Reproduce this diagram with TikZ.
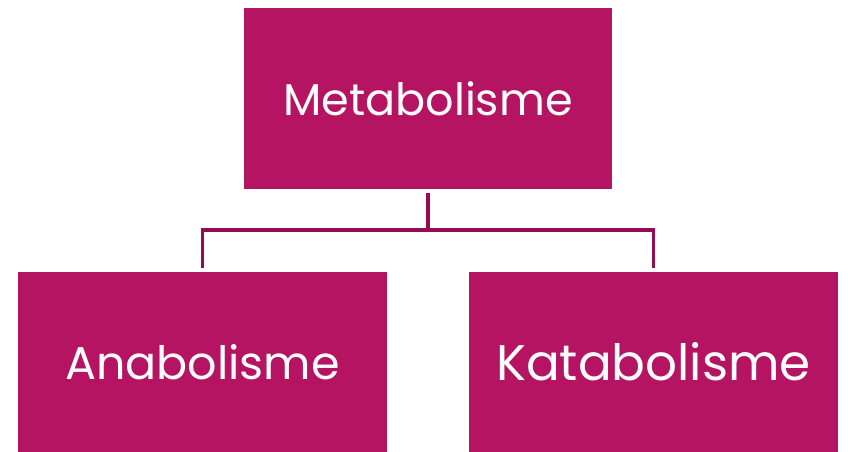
\documentclass[tikz,border=0pt]{standalone}
\usepackage{fontspec}
\setmainfont{Poppins}
\definecolor{boxfill}{HTML}{B41462}
\definecolor{connline}{HTML}{980A52}
\begin{document}
\begin{tikzpicture}[x=1pt,y=-1pt,
  box/.style={fill=boxfill, draw=none, inner sep=0pt, text=white,
    font=\fontsize{46}{50}\selectfont},
  conn/.style={draw=connline, line width=3.5pt}]
\useasboundingbox (0,0) rectangle (848,452);
\node[box, minimum width=368pt, minimum height=181pt, font=\fontsize{44.5}{50}\selectfont] (top) at (428,98.5) {Metabolisme};
\node[box, minimum width=369pt, minimum height=180pt] (left) at (202.5,362) {Anabolisme};
\node[box, minimum width=369pt, minimum height=180pt, font=\fontsize{50}{54}\selectfont] (right) at (653.5,362) {Katabolisme};
\draw[conn, shorten <=4pt] (top.south) -- ++(0,41) coordinate (mid);
\draw[conn, shorten >=4pt] (mid) -| (left.north);
\draw[conn, shorten >=4pt] (mid) -| (right.north);
\end{tikzpicture}
\end{document}
